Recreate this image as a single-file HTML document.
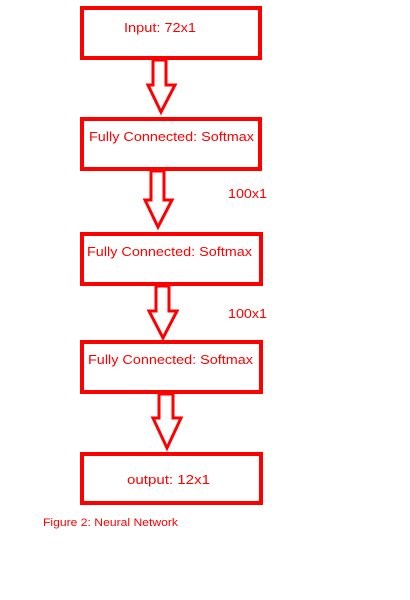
<!DOCTYPE html>
<html><head><style>html,body{margin:0;padding:0;background:#fff;}svg{display:block}</style></head>
<body>
<svg width="410" height="600" xmlns="http://www.w3.org/2000/svg" font-family="Liberation Sans, sans-serif" fill="none">
<g stroke="#ff0000" stroke-width="4" fill="#fff">
<rect x="82" y="8" width="178" height="50"/>
<rect x="82" y="119" width="178" height="50"/>
<rect x="82" y="234" width="179" height="50"/>
<rect x="82" y="342" width="179" height="50"/>
<rect x="82" y="454" width="179" height="49"/>
</g>
<g stroke="#ff0000" stroke-width="3" fill="#fff" stroke-linejoin="miter">
<polygon points="153,60 166,60 166,85 175,85 161,112 148,85 153,85"/>
<polygon points="151,171 164,171 164,200 172,200 158,227 145,200 151,200"/>
<polygon points="156,286 169,286 169,311 177,311 163,338 149,311 156,311"/>
<polygon points="159,394 173,394 173,418 181,418 167,448 153,418 159,418"/>
</g>
<g fill="#ff0000" font-size="13">
<text x="124" y="32" textLength="72" lengthAdjust="spacingAndGlyphs">Input: 72x1</text>
<text x="89" y="141" textLength="165" lengthAdjust="spacingAndGlyphs">Fully Connected: Softmax</text>
<text x="87" y="256" textLength="165" lengthAdjust="spacingAndGlyphs">Fully Connected: Softmax</text>
<text x="88" y="364" textLength="165" lengthAdjust="spacingAndGlyphs">Fully Connected: Softmax</text>
<text x="127" y="484" textLength="83" lengthAdjust="spacingAndGlyphs">output: 12x1</text>
<text x="228" y="198" textLength="39" lengthAdjust="spacingAndGlyphs">100x1</text>
<text x="228" y="318" textLength="39" lengthAdjust="spacingAndGlyphs">100x1</text>
<text x="43" y="526" font-size="11" textLength="135" lengthAdjust="spacingAndGlyphs">Figure 2: Neural Network</text>
</g>
</svg>
</body></html>
